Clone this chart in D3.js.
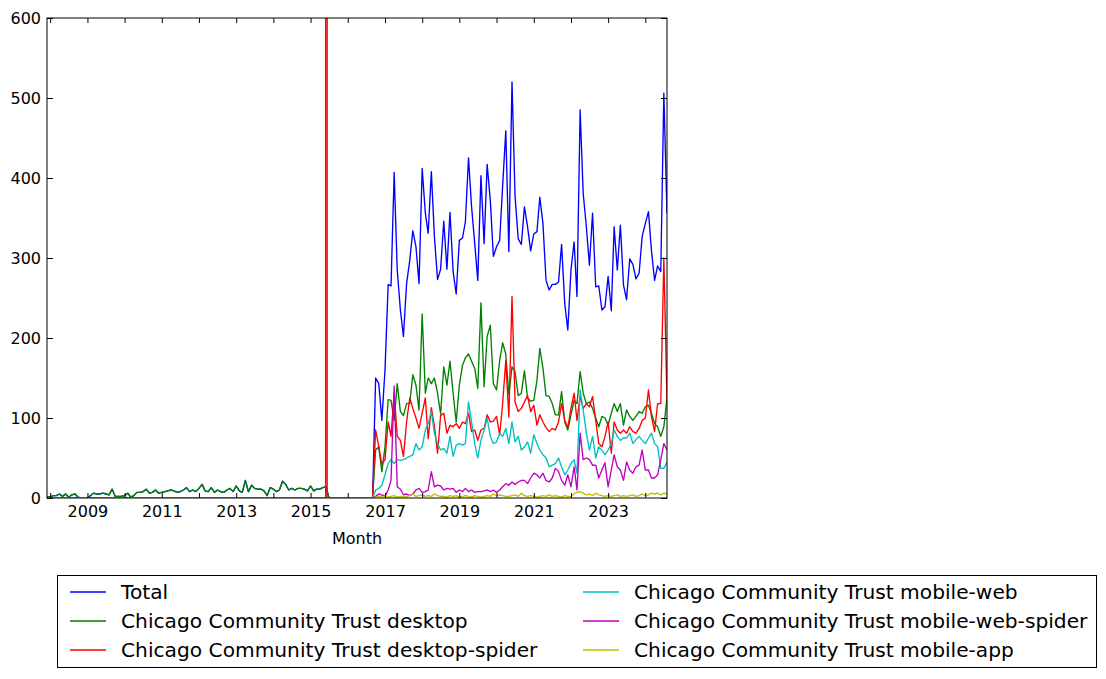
<!DOCTYPE html>
<html>
<head>
<meta charset="utf-8">
<script src="https://cdn.jsdelivr.net/npm/d3@7"></script>
<style>
  body { margin: 0; background: #fff; }
  svg { display: block; font-family: "DejaVu Sans", sans-serif; }
</style>
</head>
<body>
<svg></svg>
<script>
var width = 1106;
var height = 679;
var margin = { left: 47, right: 667, top: 18, bottom: 498 };

// one value per month, 2007-12 .. 2024-08
var firstMonth = "2007-12";
var lastMonth = "2024-08";

var total = [
    2,
    1, 3, 3, 5, 2, 5, 1, 4, 5, 1, 0, 0,
    0, 3, 6, 5, 5, 6, 5, 4, 11, 2, 2, 2,
    3, 6, 1, 3, 7, 7, 8, 11, 6, 7, 10, 6,
    7, 8, 9, 10, 9, 7, 8, 10, 13, 8, 10, 8,
    12, 17, 9, 8, 13, 7, 10, 8, 7, 10, 12, 8,
    15, 9, 7, 22, 8, 16, 12, 11, 11, 9, 3, 13,
    11, 8, 10, 21, 17, 10, 12, 10, 12, 12, 11, 9,
    15, 9, 11, 11, 13, 14, 0, 0, 0, 0, 0, 0,
    0, 0, 0, 0, 0, 0, 0, 0, 0, 150, 143, 97,
    160, 267, 265, 407, 285, 235, 202, 268, 297, 334, 314, 268,
    412, 356, 331, 408, 327, 273, 286, 346, 286, 357, 283, 255,
    322, 325, 345, 425, 364, 318, 272, 403, 318, 417, 372, 302,
    314, 322, 390, 459, 308, 520, 377, 324, 317, 364, 339, 309,
    330, 333, 376, 343, 272, 260, 267, 267, 270, 317, 243, 210,
    285, 320, 252, 485, 381, 339, 291, 356, 264, 265, 235, 239,
    277, 234, 339, 285, 341, 266, 248, 299, 292, 274, 281, 327,
    343, 358, 310, 272, 290, 283, 506, 356
];
var desktop = [
    2,
    1, 3, 3, 5, 2, 5, 1, 4, 5, 1, 0, 0,
    0, 3, 6, 5, 5, 6, 5, 4, 11, 2, 2, 2,
    3, 6, 1, 3, 7, 7, 8, 11, 6, 7, 10, 6,
    7, 8, 9, 10, 9, 7, 8, 10, 13, 8, 10, 8,
    12, 17, 9, 8, 13, 7, 10, 8, 7, 10, 12, 8,
    15, 9, 7, 22, 8, 16, 12, 11, 11, 9, 3, 13,
    11, 8, 10, 21, 17, 10, 12, 10, 12, 12, 11, 9,
    15, 9, 11, 11, 13, 14, 0, 0, 0, 0, 0, 0,
    0, 0, 0, 0, 0, 0, 0, 0, 0, 60, 64, 33,
    64, 123, 122, 97, 143, 108, 103, 118, 118, 154, 141, 110,
    230, 131, 150, 143, 150, 131, 105, 164, 141, 171, 131, 95,
    141, 166, 175, 180, 171, 162, 137, 244, 139, 202, 216, 143,
    135, 172, 194, 180, 129, 164, 158, 128, 131, 159, 125, 121,
    122, 147, 187, 162, 128, 127, 118, 104, 104, 133, 95, 85,
    104, 122, 118, 158, 131, 118, 120, 112, 100, 89, 102, 100,
    91, 106, 118, 108, 118, 91, 110, 102, 97, 102, 108, 106,
    114, 116, 106, 93, 89, 77, 89, 125
];
var desktopSpider = [
    0,
    0, 0, 0, 0, 0, 0, 0, 0, 0, 0, 0, 0,
    0, 0, 0, 0, 0, 0, 0, 0, 0, 0, 0, 0,
    0, 0, 0, 0, 0, 0, 0, 0, 0, 0, 0, 0,
    0, 0, 0, 0, 0, 0, 0, 0, 0, 0, 0, 0,
    0, 0, 0, 0, 0, 0, 0, 0, 0, 0, 0, 0,
    0, 0, 0, 0, 0, 0, 0, 0, 0, 0, 0, 0,
    0, 0, 0, 0, 0, 0, 0, 0, 0, 0, 0, 0,
    0, 0, 0, 0, 0, 0, 0, 0, 0, 0, 0, 0,
    0, 0, 0, 0, 0, 0, 0, 0, 0, 85, 64, 42,
    48, 95, 77, 132, 77, 72, 52, 95, 125, 112, 100, 87,
    106, 125, 74, 113, 90, 56, 103, 106, 81, 91, 89, 93,
    87, 95, 93, 106, 83, 85, 72, 85, 87, 104, 95, 96,
    102, 79, 118, 172, 101, 252, 120, 108, 112, 120, 128, 108,
    116, 91, 104, 95, 88, 83, 87, 85, 95, 118, 97, 88,
    112, 131, 97, 127, 112, 118, 114, 127, 97, 68, 64, 77,
    95, 56, 95, 85, 81, 85, 81, 89, 83, 81, 87, 97,
    100, 135, 102, 83, 118, 118, 300, 122
];
// the desktop-spider burst in mid 2015 runs far above the axis
var spiderSpikeDates = ["2015-05-29", "2015-06-05", "2015-06-13"];
var spiderSpikeValues = [0, 60000, 0];

var mobileWeb = [
    0,
    0, 0, 0, 0, 0, 0, 0, 0, 0, 0, 0, 0,
    0, 0, 0, 0, 0, 0, 0, 0, 0, 0, 0, 0,
    0, 0, 0, 0, 0, 0, 0, 0, 0, 0, 0, 0,
    0, 0, 0, 0, 0, 0, 0, 0, 0, 0, 0, 0,
    0, 0, 0, 0, 0, 0, 0, 0, 0, 0, 0, 0,
    0, 0, 0, 0, 0, 0, 0, 0, 0, 0, 0, 0,
    0, 0, 0, 0, 0, 0, 0, 0, 0, 0, 0, 0,
    0, 0, 0, 0, 0, 0, 0, 0, 0, 0, 0, 0,
    0, 0, 0, 0, 0, 0, 0, 0, 0, 10, 12, 16,
    29, 43, 48, 43, 48, 47, 48, 50, 52, 54, 68, 60,
    64, 85, 93, 108, 81, 68, 60, 62, 56, 77, 52, 66,
    68, 66, 68, 120, 95, 68, 50, 72, 85, 100, 77, 68,
    70, 81, 77, 87, 68, 95, 70, 77, 60, 64, 70, 56,
    79, 68, 60, 54, 50, 39, 41, 43, 50, 39, 29, 35,
    43, 48, 31, 135, 110, 81, 60, 77, 50, 64, 60, 54,
    60, 68, 85, 77, 72, 75, 75, 81, 68, 73, 77, 72,
    68, 75, 81, 68, 64, 37, 37, 45
];
var mobileWebSpider = [
    0,
    0, 0, 0, 0, 0, 0, 0, 0, 0, 0, 0, 0,
    0, 0, 0, 0, 0, 0, 0, 0, 0, 0, 0, 0,
    0, 0, 0, 0, 0, 0, 0, 0, 0, 0, 0, 0,
    0, 0, 0, 0, 0, 0, 0, 0, 0, 0, 0, 0,
    0, 0, 0, 0, 0, 0, 0, 0, 0, 0, 0, 0,
    0, 0, 0, 0, 0, 0, 0, 0, 0, 0, 0, 0,
    0, 0, 0, 0, 0, 0, 0, 0, 0, 0, 0, 0,
    0, 0, 0, 0, 0, 0, 0, 0, 0, 0, 0, 0,
    0, 0, 0, 0, 0, 0, 0, 0, 0, 2, 5, 4,
    2, 10, 22, 140, 14, 11, 4, 5, 3, 5, 10, 12,
    7, 8, 10, 33, 14, 16, 15, 10, 12, 11, 12, 7,
    10, 8, 12, 8, 10, 7, 8, 8, 9, 10, 8, 10,
    7, 10, 14, 18, 16, 20, 17, 20, 22, 22, 18, 25,
    31, 29, 25, 31, 22, 20, 25, 37, 33, 22, 16, 29,
    14, 39, 10, 81, 48, 50, 48, 41, 41, 25, 35, 44,
    14, 35, 54, 39, 35, 22, 45, 35, 31, 39, 41, 60,
    35, 35, 25, 25, 29, 48, 68, 60
];
var mobileApp = [
    0,
    0, 0, 0, 0, 0, 0, 0, 0, 0, 0, 0, 0,
    0, 0, 0, 0, 0, 0, 0, 0, 0, 0, 0, 0,
    0, 0, 0, 0, 0, 0, 0, 0, 0, 0, 0, 0,
    0, 0, 0, 0, 0, 0, 0, 0, 0, 0, 0, 0,
    0, 0, 0, 0, 0, 0, 0, 0, 0, 0, 0, 0,
    0, 0, 0, 0, 0, 0, 0, 0, 0, 0, 0, 0,
    0, 0, 0, 0, 0, 0, 0, 0, 0, 0, 0, 0,
    0, 0, 0, 0, 0, 0, 0, 0, 0, 0, 0, 0,
    0, 0, 0, 0, 0, 0, 0, 0, 0, 1, 2, 1,
    2, 1, 2, 3, 1, 2, 1, 2, 3, 5, 2, 3,
    4, 2, 3, 2, 5, 3, 2, 2, 1, 3, 2, 3,
    1, 2, 3, 2, 1, 3, 2, 1, 2, 3, 2, 5,
    3, 4, 3, 2, 2, 3, 4, 2, 6, 3, 2, 3,
    2, 1, 2, 3, 2, 4, 2, 3, 2, 1, 3, 2,
    2, 5, 7, 8, 6, 4, 5, 3, 6, 4, 3, 2,
    3, 2, 3, 4, 2, 3, 2, 3, 4, 2, 3, 5,
    3, 4, 6, 5, 6, 4, 6, 5
];

var seriesNames = [
    "Total",
    "Chicago Community Trust desktop",
    "Chicago Community Trust desktop-spider",
    "Chicago Community Trust mobile-web",
    "Chicago Community Trust mobile-web-spider",
    "Chicago Community Trust mobile-app"
];
var seriesValues = [total, desktop, desktopSpider, mobileWeb, mobileWebSpider, mobileApp];
var colors = ["#0000ff", "#008000", "#ff0000", "#00bfbf", "#bf00bf", "#bfbf00"];
var yTicks = [0, 100, 200, 300, 400, 500, 600];

var parseMonth = d3.timeParse("%Y-%m");
var parseDay = d3.timeParse("%Y-%m-%d");
var months = d3.timeMonth.range(parseMonth(firstMonth), d3.timeMonth.offset(parseMonth(lastMonth), 1));

const svg = d3.select('svg')
    .attr('width', width)
    .attr('height', height);

svg.append('rect').attr('width', width).attr('height', height).attr('fill', '#fff');

var x = d3.scaleTime()
    .domain([months[0], months[months.length - 1]])
    .range([margin.left, margin.right]);
var y = d3.scaleLinear()
    .domain([0, 600])
    .range([margin.bottom, margin.top]);

svg.append('clipPath').attr('id', 'plot')
    .append('rect')
    .attr('x', margin.left).attr('y', margin.top)
    .attr('width', margin.right - margin.left)
    .attr('height', margin.bottom - margin.top);

var line = d3.line()
    .x(d => x(d.date))
    .y(d => y(d.value));

var spikeStart = parseDay(spiderSpikeDates[0]);
var spikeEnd = parseDay(spiderSpikeDates[spiderSpikeDates.length - 1]);

seriesValues.forEach(function(values, k) {
    var points = months.map((m, i) => ({ date: m, value: values[i] }));
    if (k == 2) {
        points = points.filter(p => p.date < spikeStart || p.date > spikeEnd);
        spiderSpikeDates.forEach(function(s, j) {
            points.push({ date: parseDay(s), value: spiderSpikeValues[j] });
        });
        points.sort((a, b) => a.date - b.date);
    }
    svg.append('path')
        .datum(points)
        .attr('clip-path', 'url(#plot)')
        .attr('fill', 'none')
        .attr('stroke', colors[k])
        .attr('stroke-width', 1.35)
        .attr('stroke-linejoin', 'round')
        .attr('d', line);
});

// axes, ticks pointing inward like the classic style
var years = d3.timeYear.range(new Date(2008, 0, 1), new Date(2025, 0, 1));
var yearLabel = d => (d.getFullYear() % 2 == 1 ? d3.timeFormat("%Y")(d) : "");

function styleAxis(g) {
    g.select('.domain').remove();
    g.selectAll('line').attr('stroke', '#000');
    g.selectAll('text').attr('font-size', 16).attr('fill', '#000')
        .attr('font-family', '"DejaVu Sans", sans-serif');
}

svg.append('g')
    .attr('transform', `translate(0,${margin.bottom})`)
    .call(d3.axisBottom(x).tickValues(years).tickFormat(yearLabel)
        .tickSizeInner(-5).tickSizeOuter(0).tickPadding(8))
    .call(styleAxis);
svg.append('g')
    .attr('transform', `translate(0,${margin.top})`)
    .call(d3.axisTop(x).tickValues(years).tickFormat('')
        .tickSizeInner(-5).tickSizeOuter(0))
    .call(styleAxis);
svg.append('g')
    .attr('transform', `translate(${margin.left},0)`)
    .call(d3.axisLeft(y).tickValues(yTicks).tickFormat(d3.format('d'))
        .tickSizeInner(-6).tickSizeOuter(0).tickPadding(6))
    .call(styleAxis);
svg.append('g')
    .attr('transform', `translate(${margin.right},0)`)
    .call(d3.axisRight(y).tickValues(yTicks).tickFormat('')
        .tickSizeInner(-6).tickSizeOuter(0))
    .call(styleAxis);

svg.append('rect')
    .attr('x', margin.left).attr('y', margin.top)
    .attr('width', margin.right - margin.left)
    .attr('height', margin.bottom - margin.top)
    .attr('fill', 'none')
    .attr('stroke', '#000')
    .attr('stroke-width', 1);

svg.append('text')
    .attr('x', (margin.left + margin.right) / 2)
    .attr('y', 544)
    .attr('text-anchor', 'middle')
    .attr('font-size', 16)
    .text('Month');

// legend
var legend = svg.append('g');
legend.append('rect')
    .attr('x', 57.5).attr('y', 575.5)
    .attr('width', 1039).attr('height', 92)
    .attr('fill', '#fff')
    .attr('stroke', '#000');

var cols = [70, 583];
seriesNames.forEach(function(name, k) {
    var cx = cols[Math.floor(k / 3)];
    var cy = 592 + (k % 3) * 29;
    legend.append('line')
        .attr('x1', cx).attr('x2', cx + 36)
        .attr('y1', cy).attr('y2', cy)
        .attr('stroke', colors[k])
        .attr('stroke-width', 1.35);
    legend.append('text')
        .attr('x', cx + 51)
        .attr('y', cy + 7)
        .attr('font-size', 20.2)
        .text(name);
});
</script>
</body>
</html>
